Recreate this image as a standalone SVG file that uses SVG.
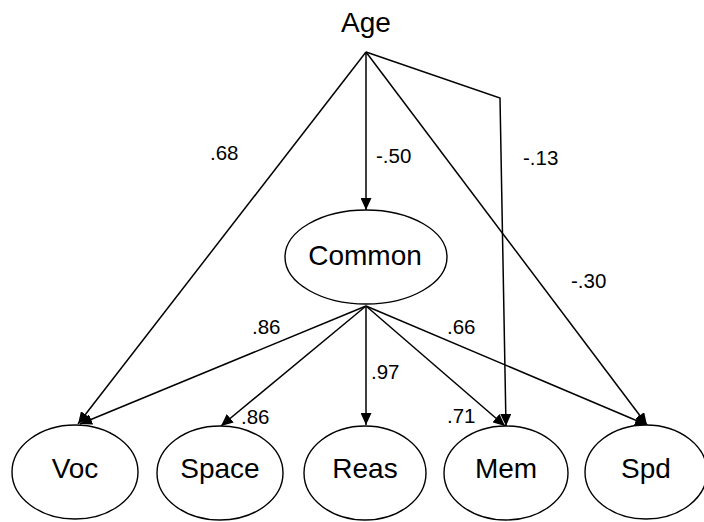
<svg xmlns="http://www.w3.org/2000/svg" width="704" height="522" viewBox="0 0 704 522">
<defs>
<marker id="arr" markerUnits="userSpaceOnUse" markerWidth="13" markerHeight="11" refX="12" refY="5.5" orient="auto">
<path d="M0,0 L12,5.5 L0,11 Z" fill="#000"/>
</marker>
<style>
.node ellipse{fill:#fff;stroke:#000;stroke-width:1.4}
.lbl{font-family:"Liberation Sans",Arial,sans-serif;font-size:28px;fill:#000;text-anchor:middle}
.coef{font-family:"Liberation Sans",Arial,sans-serif;font-size:20.5px;fill:#000}
#connectors path,#connectors line{fill:none;stroke:#000;stroke-width:1.5;marker-end:url(#arr)}
</style>
</defs>
<rect width="704" height="522" fill="#fff"/>
<g id="connectors">
<line x1="366" y1="52" x2="78" y2="424"/>
<line x1="366" y1="52" x2="366" y2="210"/>
<path d="M366,52 L500,98 L506,426"/>
<line x1="366" y1="52" x2="647" y2="425"/>
<line x1="366" y1="306" x2="80" y2="424"/>
<line x1="366" y1="306" x2="221" y2="426"/>
<line x1="366" y1="306" x2="366" y2="425"/>
<line x1="366" y1="306" x2="505" y2="426"/>
<line x1="366" y1="306" x2="647" y2="425"/>
</g>
<g id="age" class="node">
<text class="lbl" x="366" y="32">Age</text>
</g>
<g id="common" class="node">
<ellipse cx="366" cy="257" rx="81" ry="47"/>
<text class="lbl" x="365" y="265">Common</text>
</g>
<g id="voc" class="node">
<ellipse cx="75" cy="472" rx="63" ry="47"/>
<text class="lbl" x="75" y="478">Voc</text>
</g>
<g id="space" class="node">
<ellipse cx="220" cy="473" rx="63" ry="47"/>
<text class="lbl" x="220" y="478">Space</text>
</g>
<g id="reas" class="node">
<ellipse cx="365" cy="473" rx="61" ry="47"/>
<text class="lbl" x="365" y="478">Reas</text>
</g>
<g id="mem" class="node">
<ellipse cx="506" cy="473" rx="62" ry="47"/>
<text class="lbl" x="506" y="478">Mem</text>
</g>
<g id="spd" class="node">
<ellipse cx="646" cy="472" rx="61" ry="47"/>
<text class="lbl" x="646" y="478">Spd</text>
</g>
<g id="coefficients">
<text class="coef" x="210" y="160">.68</text>
<text class="coef" x="376" y="163">-.50</text>
<text class="coef" x="523" y="165">-.13</text>
<text class="coef" x="571" y="288">-.30</text>
<text class="coef" x="252" y="334">.86</text>
<text class="coef" x="447" y="334">.66</text>
<text class="coef" x="371" y="379">.97</text>
<text class="coef" x="241" y="424">.86</text>
<text class="coef" x="447" y="423">.71</text>
</g>
</svg>
